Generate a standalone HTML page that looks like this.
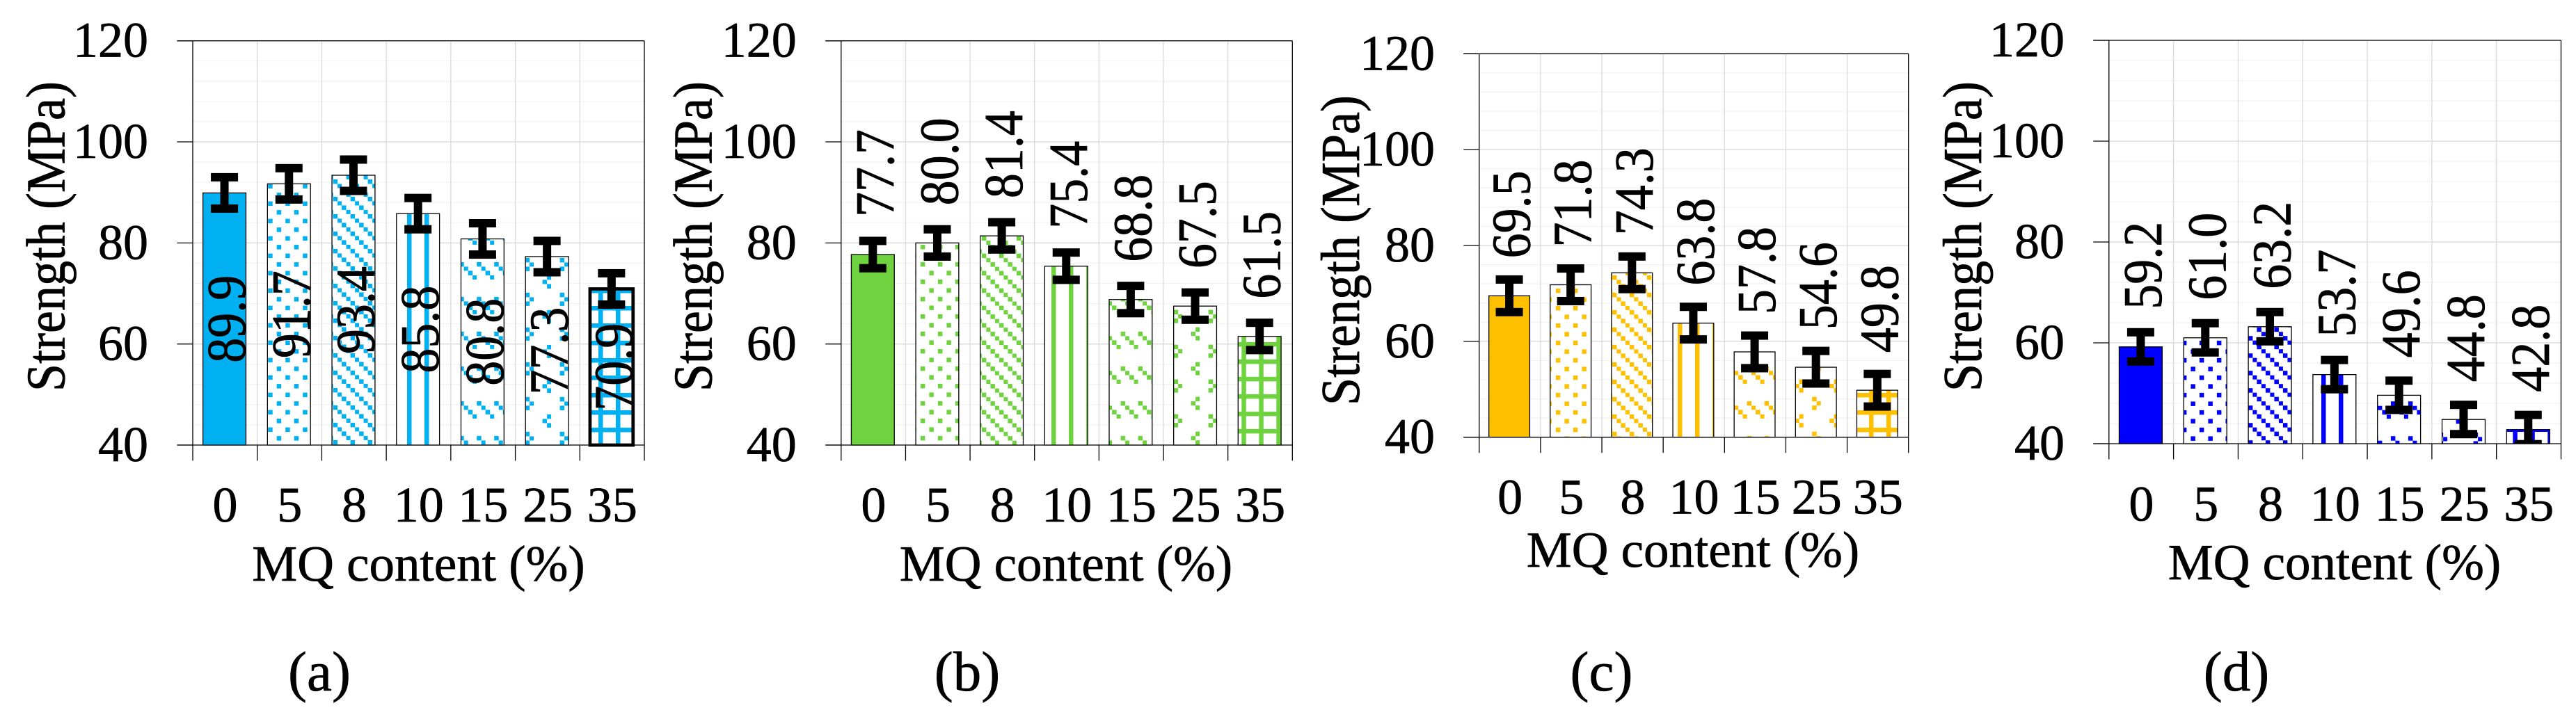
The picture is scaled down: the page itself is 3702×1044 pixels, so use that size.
<!DOCTYPE html>
<html lang="en">
<head>
<meta charset="utf-8">
<title>Strength vs MQ content</title>
<style>
html,body{margin:0;padding:0;background:#fff;width:3702px;height:1044px;overflow:hidden}
svg{display:block}
text{font-family:"Liberation Serif",serif;font-size:72px;fill:#000;stroke:#000;stroke-width:0.7px;text-rendering:geometricPrecision}
.xt{font-size:73px}
.cap{font-size:81px}
</style>
</head>
<body>
<svg id="figure" xmlns="http://www.w3.org/2000/svg" width="3702" height="1044" viewBox="0 0 3702 1044">
  <rect width="3702" height="1044" fill="#fff"/>
  <defs id="defs"></defs>
  <g id="chart-a"></g>
  <g id="chart-b"></g>
  <g id="chart-c"></g>
  <g id="chart-d"></g>

  <text text-anchor="middle" transform="translate(92.7,340) rotate(-90) scale(1,1.1)">Strength (MPa)</text>
  <text text-anchor="middle" transform="translate(1022.7,340) rotate(-90) scale(1,1.1)">Strength (MPa)</text>
  <text text-anchor="middle" transform="translate(1953,360) rotate(-90) scale(1,1.1)">Strength (MPa)</text>
  <text text-anchor="middle" transform="translate(2847,340) rotate(-90) scale(1,1.1)">Strength (MPa)</text>

  <text class="xt" text-anchor="middle" x="601.5" y="835">MQ content (%)</text>
  <text class="xt" text-anchor="middle" x="1532" y="835">MQ content (%)</text>
  <text class="xt" text-anchor="middle" x="2433" y="815">MQ content (%)</text>
  <text class="xt" text-anchor="middle" x="3355" y="833">MQ content (%)</text>

  <text class="cap" text-anchor="middle" x="459" y="993">(a)</text>
  <text class="cap" text-anchor="middle" x="1390" y="993">(b)</text>
  <text class="cap" text-anchor="middle" x="2301.5" y="993">(c)</text>
  <text class="cap" text-anchor="middle" x="3214" y="993">(d)</text>
</svg>
<script>
// Chart data
const categories = ["0", "5", "8", "10", "15", "25", "35"];
const yTicks = [40, 60, 80, 100, 120];
const yMinorStep = 4;
const valuesA = [89.9, 91.7, 93.4, 85.8, 80.8, 77.3, 70.9];
const valuesB = [77.7, 80.0, 81.4, 75.4, 68.8, 67.5, 61.5];
const valuesC = [69.5, 71.8, 74.3, 63.8, 57.8, 54.6, 49.8];
const valuesD = [59.2, 61.0, 63.2, 53.7, 49.6, 44.8, 42.8];
const errorsA = [3.1, 3.1, 3.1, 3.1, 3.1, 3.1, 3.1];
const errorsB = [2.7, 2.7, 2.7, 2.7, 2.7, 2.7, 2.7];
const errorsC = [3.4, 3.4, 3.4, 3.4, 3.4, 3.4, 3.4];
const errorsD = [2.9, 2.9, 2.9, 2.9, 2.9, 2.9, 2.9];

const SVGNS = "http://www.w3.org/2000/svg";
const CELL = 6.25;
const tiles = {
  dots:    {w: 25, h: 25, cells: [[0,0],[2,2]]},
  diag:    {w: 25, h: 25, cells: [[0,0],[1,1],[2,2],[3,3]]},
  vert:    {w: 25, h: 25, cells: [[0,0],[0,1],[0,2],[0,3]]},
  dash:    {w: 25, h: 50, cells: [[0,0],[1,1],[2,2],[3,3]]},
  trellis: {w: 50, h: 50, cells: [[0,0],[1,1],[0,2],[5,4],[4,5],[5,6]]},
  grid:    {w: 25, h: 25, cells: [[0,0],[0,1],[0,2],[0,3],[1,0],[2,0],[3,0]]}
};
const barKinds = ["solid", "dots", "diag", "vert", "dash", "trellis", "grid"];

const panels = [
  {id: "a", values: valuesA, errors: errorsA, color: "#00b0f0", left: 277, right: 926, top: 58.7, bottom: 640,
   yLabelX: 213, xLabelY: 750, labelMode: "center", heavyLast: true,
   anchors: {dots:[385.2,289.6], diag:[478.6,282.9], vert:[585,0], dash:[685.2,376.9], trellis:[754.6,370.9], grid:[860,440]}},
  {id: "b", values: valuesB, errors: errorsB, color: "#6fd33f", left: 1208.8, right: 1857.3, top: 58.7, bottom: 640,
   yLabelX: 1144.7, xLabelY: 750, labelMode: "above", heavyLast: false,
   anchors: {dots:[1322.9,351.9], diag:[1410.9,339.6], vert:[1511,0], dash:[1610.6,476.9], trellis:[1686.6,445.6], grid:[1809.3,566.9]}},
  {id: "c", values: valuesC, errors: errorsC, color: "#ffc000", left: 2125.8, right: 2742.7, top: 77.3, bottom: 628.7,
   yLabelX: 2062, xLabelY: 738.7, labelMode: "above", heavyLast: false,
   anchors: {dots:[2235.9,414.9], diag:[2316.9,395.9], vert:[2411,0], dash:[2510.6,576.9], trellis:[2604.2,570.6], grid:[2686,565]}},
  {id: "d", values: valuesD, errors: errorsD, color: "#0000ff", left: 3030.8, right: 3680.5, top: 58, bottom: 638,
   yLabelX: 2967, xLabelY: 748.7, labelMode: "above", heavyLast: false,
   anchors: {dots:[3160.9,489.9], diag:[3230.9,508.2], vert:[3336,0], dash:[3410.9,577.2], trellis:[3554.6,621.9], grid:[3611.3,614.5]}}
];

function mk(parent, tag, attrs, txt) {
  const el = document.createElementNS(SVGNS, tag);
  for (const k in attrs) el.setAttribute(k, attrs[k]);
  if (txt !== undefined) el.textContent = txt;
  parent.appendChild(el);
  return el;
}

const defs = document.getElementById("defs");

function addPattern(panel, kind) {
  const t = tiles[kind];
  const a = panel.anchors[kind];
  const p = mk(defs, "pattern", {id: "pat-" + panel.id + "-" + kind, patternUnits: "userSpaceOnUse",
    x: a[0], y: a[1], width: t.w, height: t.h});
  mk(p, "rect", {x: 0, y: 0, width: t.w, height: t.h, fill: "#fff"});
  t.cells.forEach(function (c) {
    mk(p, "rect", {x: c[0] * CELL, y: c[1] * CELL, width: CELL, height: CELL, fill: panel.color, "shape-rendering": "crispEdges"});
  });
}

panels.forEach(function (panel) {
  const root = document.getElementById("chart-" + panel.id);
  const yMin = yTicks[0];
  const yMax = yTicks[yTicks.length - 1];
  const y = function (v) { return panel.bottom - (v - yMin) * (panel.bottom - panel.top) / (yMax - yMin); };
  const band = (panel.right - panel.left) / categories.length;
  const xEdge = function (i) { return panel.left + i * band; };
  const xMid = function (i) { return xEdge(i) + band / 2 - 0.8; };
  const barW = band * 0.667;
  const capW = 39, capT = 12, stemW = 12;
  const tickLen = 22.5;

  Object.keys(tiles).forEach(function (k) { addPattern(panel, k); });

  const clip = mk(defs, "clipPath", {id: "clip-" + panel.id});
  mk(clip, "rect", {x: panel.left, y: panel.top, width: panel.right - panel.left, height: panel.bottom - panel.top});

  // gridlines
  const grid = mk(root, "g", {});
  
  
  for (let v = yMin; v <= yMax; v += yMinorStep) {
    mk(grid, "line", {x1: panel.left, x2: panel.right, y1: y(v), y2: y(v), stroke: "#f2f2f2", "stroke-width": 1.3});
  }
  yTicks.forEach(function (v) {
    mk(grid, "line", {x1: panel.left, x2: panel.right, y1: y(v), y2: y(v), stroke: "#d9d9d9", "stroke-width": 1.3});
  });
  categories.forEach(function (c, i) {
    if (i > 0) mk(grid, "line", {x1: xEdge(i), x2: xEdge(i), y1: panel.top, y2: panel.bottom, stroke: "#d9d9d9", "stroke-width": 1.3});
  });

  // axes and ticks
  const axes = mk(root, "g", {stroke: "#000", "stroke-width": 1.3});
  
  
  yTicks.forEach(function (v) {
    mk(axes, "line", {x1: panel.left - 22.5, x2: panel.left, y1: y(v), y2: y(v)});
  });
  mk(axes, "line", {x1: panel.left - 22.5, x2: panel.right, y1: panel.top, y2: panel.top});
  mk(axes, "line", {x1: panel.left - 22.5, x2: panel.right, y1: panel.bottom, y2: panel.bottom});
  for (let i = 0; i <= categories.length; i++) {
    const top = (i === 0 || i === categories.length) ? panel.top : panel.bottom;
    mk(axes, "line", {x1: xEdge(i), x2: xEdge(i), y1: top, y2: panel.bottom + tickLen});
  }

  // y tick labels
  yTicks.forEach(function (v) {
    const t = mk(root, "text", {x: panel.yLabelX, y: y(v) + 23, "text-anchor": "end"}, String(v));
    
    
  });

  // x tick labels
  categories.forEach(function (c, i) {
    const t = mk(root, "text", {x: xMid(i) + 1, y: panel.xLabelY, "text-anchor": "middle"}, c);
    
    
  });

  // bars
  panel.values.forEach(function (v, i) {
    const kind = barKinds[i];
    const heavy = panel.heavyLast && i === panel.values.length - 1;
    const bar = mk(root, "rect", {
      x: xMid(i) - barW / 2, y: y(v), width: barW, height: panel.bottom - y(v),
      fill: kind === "solid" ? panel.color : "url(#pat-" + panel.id + "-" + kind + ")",
      stroke: "#000", "stroke-width": heavy ? 4.7 : 1.3
    });
    
    
  });

  // error bars
  const errGroup = mk(root, "g", {"clip-path": "url(#clip-" + panel.id + ")", fill: "#000"});
  
  
  panel.values.forEach(function (v, i) {
    const e = panel.errors[i];
    const yHi = y(v + e), yLo = y(v - e), cx = xMid(i);
    const g = mk(errGroup, "g", {});
    
    
    mk(g, "rect", {x: cx - stemW / 2, y: yHi, width: stemW, height: yLo - yHi});
    mk(g, "rect", {x: cx - capW / 2, y: yHi - capT / 2, width: capW, height: capT});
    mk(g, "rect", {x: cx - capW / 2, y: yLo - capT / 2, width: capW, height: capT});
  });

  // value labels
  panel.values.forEach(function (v, i) {
    const bx = xMid(i) + 29.5;
    let by, anchor;
    if (panel.labelMode === "center") {
      by = (y(v) + panel.bottom) / 2;
      anchor = "middle";
    } else {
      by = y(v) - 54;
      anchor = "start";
    }
    const t = mk(root, "text", {"text-anchor": anchor, transform: "translate(" + bx + "," + by + ") rotate(-90) scale(1,1.1)"}, v.toFixed(1));
    
    
  });
});
</script>
</body>
</html>
